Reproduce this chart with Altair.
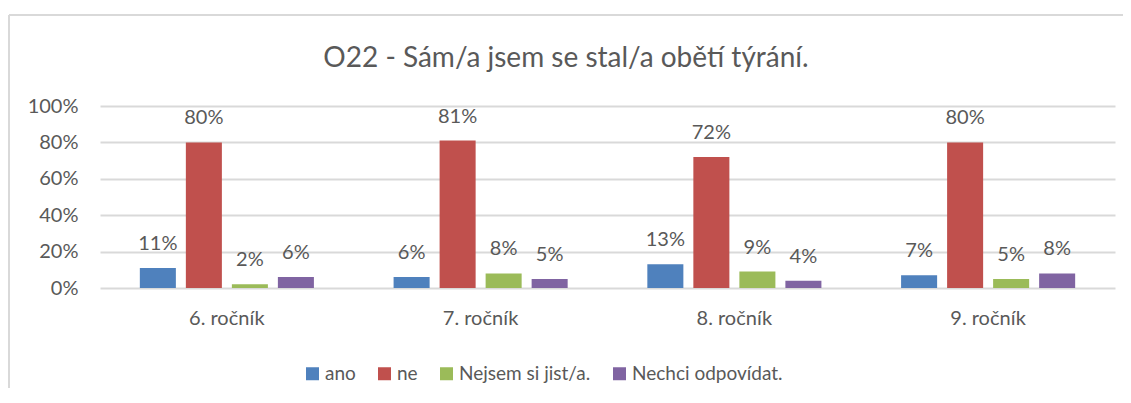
import altair as alt
import pandas as pd

groups = ["6. ročník", "7. ročník", "8. ročník", "9. ročník"]
series = ["ano", "ne", "Nejsem si jist/a.", "Nechci odpovídat."]
colors = ["#4F81BD", "#C0504D", "#9BBB59", "#8064A2"]
ano = [11, 6, 13, 7]
ne = [80, 81, 72, 80]
nejsem = [2, 8, 9, 5]
nechci = [6, 5, 4, 8]
y_ticks = [0, 0.2, 0.4, 0.6, 0.8, 1.0]
title_text = "O22 - Sám/a jsem se stal/a obětí týrání."

rows = []
for i, g in enumerate(groups):
    for s, vals in zip(series, [ano, ne, nejsem, nechci]):
        rows.append({"group": g, "series": s, "value": vals[i] / 100.0,
                     "label": f"{vals[i]}%"})
df = pd.DataFrame(rows)

FONT = "Lato"
TXT = "#595959"
GRID = "#D9D9D9"

x = alt.X("group:N", sort=groups, title=None,
          scale=alt.Scale(paddingInner=0.314, paddingOuter=0.157),
          axis=alt.Axis(labelAngle=0, ticks=False, domain=False, labelPadding=20,
                        labelFontSize=20, labelColor=TXT, labelFont=FONT, grid=False))
xo = alt.XOffset("series:N", sort=series,
                 scale=alt.Scale(paddingInner=0.217, paddingOuter=0))
y = alt.Y("value:Q", title=None,
          scale=alt.Scale(domain=[0, 1], nice=False),
          axis=alt.Axis(format=".0%", values=y_ticks, tickCount=6, ticks=False,
                        domain=False, labelPadding=22, labelFontSize=20,
                        labelOverlap=False, labelBound=False, grid=True,
                        labelColor=TXT, labelFont=FONT, gridColor=GRID, gridWidth=2))

base = alt.Chart(df).encode(x=x, xOffset=xo, y=y)

bars = base.mark_bar().encode(
    color=alt.Color("series:N", sort=series,
                    scale=alt.Scale(domain=series, range=colors),
                    legend=alt.Legend(orient="none", legendX=203, legendY=258,
                                      direction="horizontal", title=None,
                                      symbolType="square", symbolSize=169,
                                      symbolStrokeWidth=0, labelFontSize=19,
                                      labelColor=TXT, labelFont=FONT,
                                      columnPadding=19, labelOffset=3, padding=0))
)

labels = base.mark_text(dy=-18, baseline="alphabetic", fontSize=20,
                        font=FONT, color=TXT).encode(text="label:N")

title = alt.Chart(pd.DataFrame({"t": [title_text]})).mark_text(
    fontSize=28, font=FONT, color=TXT, baseline="alphabetic", align="center").encode(
    x=alt.value(466), y=alt.value(-39), text="t:N")

frame_top = alt.Chart(df).mark_rule(color=GRID, strokeWidth=2).encode(
    x=alt.value(-91), x2=alt.value(1030), y=alt.value(-91))
frame_left = alt.Chart(df).mark_rule(color=GRID, strokeWidth=2).encode(
    x=alt.value(-91), y=alt.value(-91), y2=alt.value(290))

chart = alt.layer(frame_top, frame_left, title, bars, labels).properties(
    width=1015, height=182,
    autosize=alt.AutoSizeParams(type="none"),
    padding={"left": 92, "top": 98, "right": 8, "bottom": 100},
).configure_view(stroke=None)

chart.save("out.html", embed_options={"renderer": "svg", "actions": False})
